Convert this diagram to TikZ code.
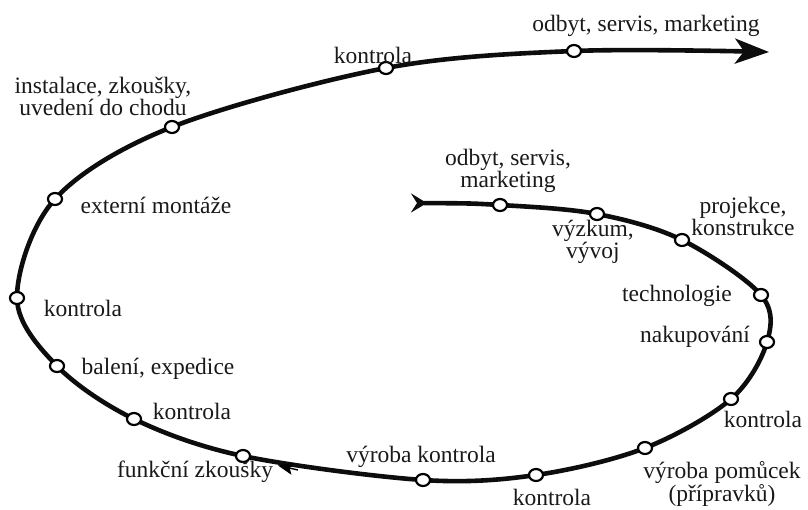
\documentclass[tikz,border=0pt]{standalone}
\usepackage{fontspec}
\setmainfont{Liberation Serif}
\usetikzlibrary{arrows.meta,shapes.geometric,backgrounds}
\begin{document}
\begin{tikzpicture}[x=1pt,y=-1pt,
  stop/.style={ellipse,draw=black,fill=white,line width=2.2pt,
    minimum width=14pt,minimum height=12pt,inner sep=0pt},
  lbl/.style={font=\fontsize{23.5}{22}\selectfont,align=center,
    inner sep=0pt,text=black!90},
  flow/.style={line width=4.6pt,draw=black!95}
]
\useasboundingbox (0,0) rectangle (808,509);

% stations along the spiral, from the inner start outwards
\node[stop] (s1)  at (500,205) {};
\node[stop] (s2)  at (597,214) {};
\node[stop] (s3)  at (682,240) {};
\node[stop] (s4)  at (761,295) {};
\node[stop] (s5)  at (767,342) {};
\node[stop] (s6)  at (731,399) {};
\node[stop] (s7)  at (645,448) {};
\node[stop] (s8)  at (536,475) {};
\node[stop] (s9)  at (423,480) {};
\node[stop] (s10) at (243,456) {};
\node[stop] (s11) at (134,419) {};
\node[stop] (s12) at (57,366) {};
\node[stop] (s13) at (17,298) {};
\node[stop] (s14) at (55,199) {};
\node[stop] (s15) at (172,127) {};
\node[stop] (s16) at (386,68) {};
\node[stop] (s17) at (574,51) {};

% station labels
\node[lbl] (l1)  at (508,171) {odbyt, servis,\\marketing};
\node[lbl] (l2)  at (593,242) {výzkum,\\vývoj};
\node[lbl] (l3)  at (743,216) {projekce,\\konstrukce};
\node[lbl] (l4)  at (677,296) {technologie};
\node[lbl] (l5)  at (695,337) {nakupování};
\node[lbl] (l6)  at (763,419) {kontrola};
\node[lbl] (l7)  at (722,484) {výroba pomůcek\\(přípravků)};
\node[lbl] (l8)  at (552,497) {kontrola};
\node[lbl] (l9)  at (421,457) {výroba kontrola};
\node[lbl] (l10) at (195,472) {funkční zkoušky};
\node[lbl] (l11) at (192,411) {kontrola};
\node[lbl] (l12) at (158,369) {balení, expedice};
\node[lbl] (l13) at (83,308) {kontrola};
\node[lbl] (l14) at (156,205) {externí montáže};
\node[lbl] (l15) at (103,96) {instalace, zkoušky,\\uvedení do chodu};
\node[lbl] (l16) at (373,55) {kontrola};
\node[lbl] (l17) at (646,26) {odbyt, servis, marketing};

% ends of the spiral and the direction marker on its lower arc
\coordinate (tail) at (411,203);
\coordinate (head) at (769,52);
\coordinate (ma) at (298,470);
\coordinate (mb) at (278,465.5);

\begin{scope}[on background layer]
  \draw[flow,
    {Stealth[reversed,length=16pt,width=19pt,inset=6pt]}-{Stealth[length=34pt,width=25pt,inset=9pt]}]
    plot[smooth,tension=0.55] coordinates {(tail) (s1.center) (s2.center)
      (s3.center) (s4.center) (s5.center) (s6.center) (s7.center)
      (s8.center) (s9.center) (s10.center) (s11.center) (s12.center)
      (s13.center) (s14.center) (s15.center) (s16.center) (s17.center) (head)};
  \draw[line width=1.4pt,-{Stealth[length=15pt,width=12pt,inset=3pt]}] (ma) -- (mb);
\end{scope}
\end{tikzpicture}
\end{document}
